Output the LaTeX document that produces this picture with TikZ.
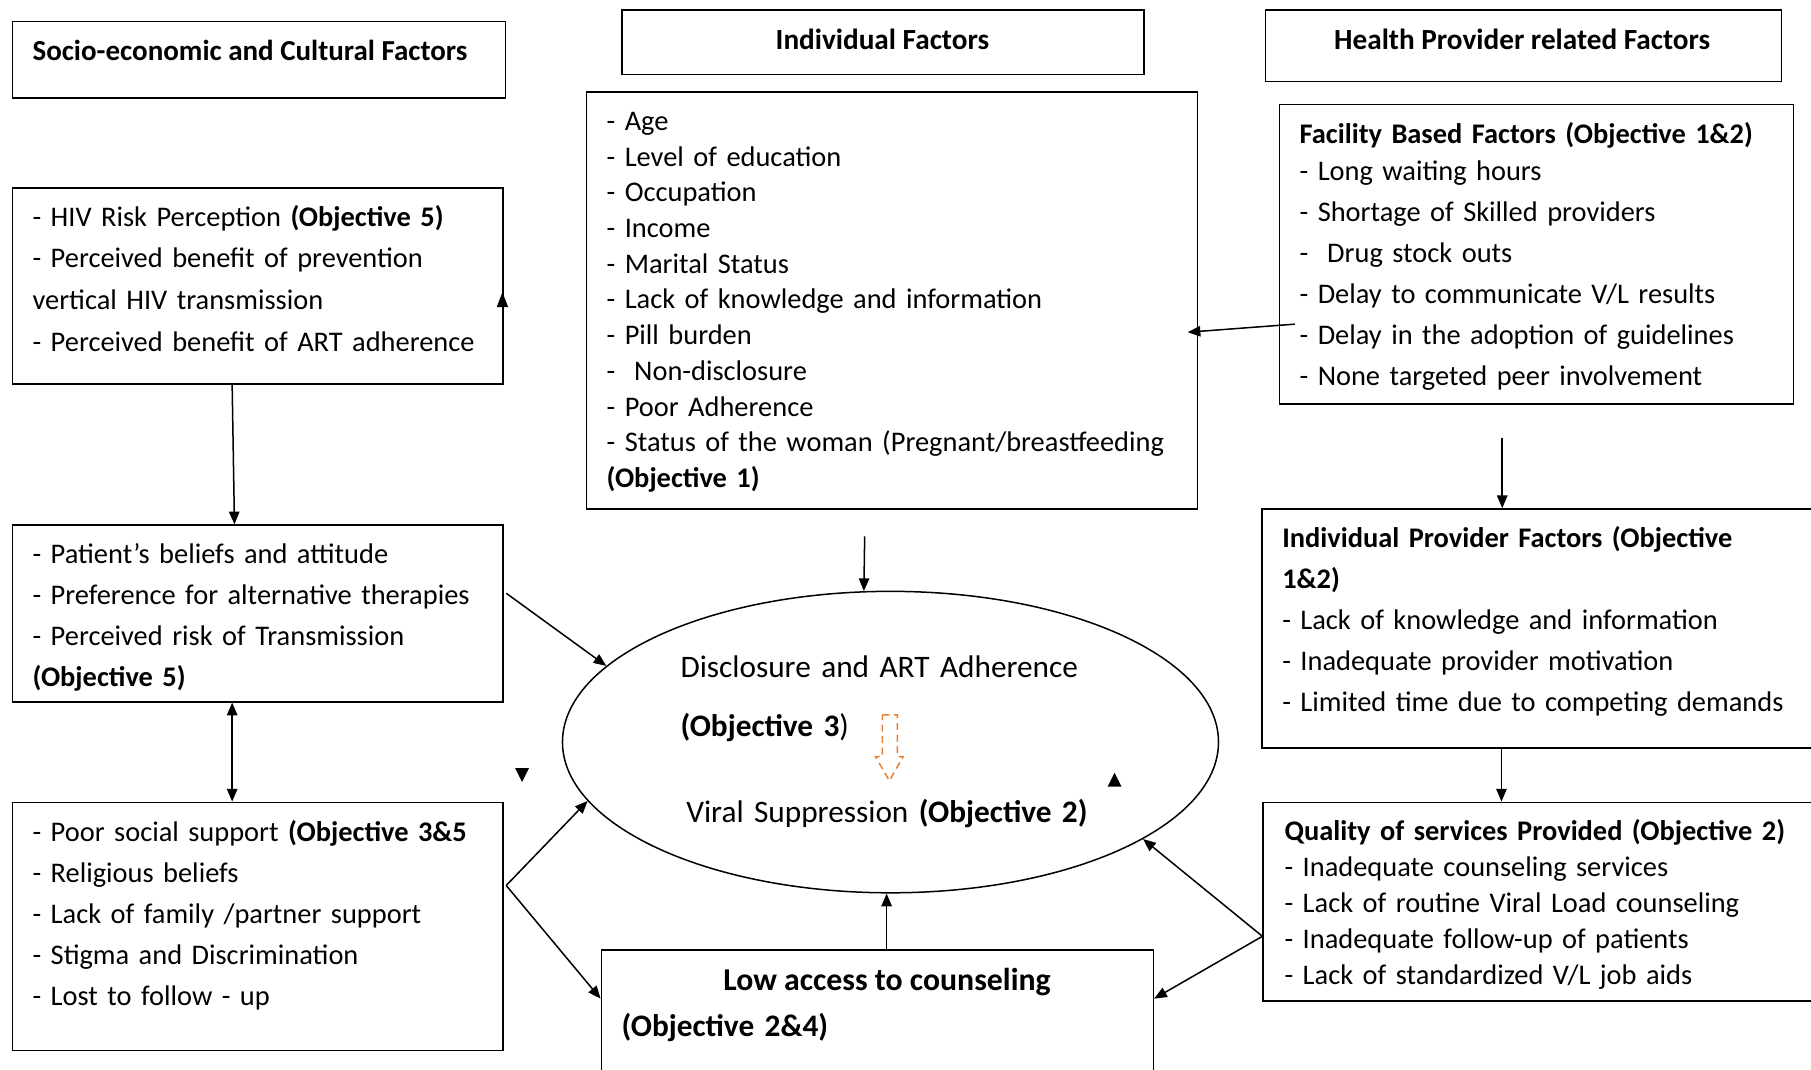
\documentclass[tikz,border=0pt]{standalone}
\usepackage{fontspec}
\setmainfont{Carlito}
\usetikzlibrary{arrows.meta,shapes.geometric}
\definecolor{dashorange}{RGB}{237,125,49}
\begin{document}
\begin{tikzpicture}[x=1pt,y=-1pt,
  box/.style={draw, line width=1.3pt, inner sep=0pt, anchor=north west},
  txt/.style={anchor=base west, inner sep=0pt, align=left, text width=520pt,
              font=\fontsize{24.6}{#1}\selectfont},
  bigtxt/.style={anchor=base west, inner sep=0pt, align=left, text width=520pt,
              font=\fontsize{27.1}{31}\selectfont},
  ctxt/.style={anchor=base, inner sep=0pt, font=\fontsize{25.3}{31}\selectfont\bfseries},
  arr/.style={line width=1.3pt, -{Triangle[length=11pt,width=9pt]}},
  dblarr/.style={line width=1.3pt, {Triangle[length=11pt,width=9pt]}-{Triangle[length=11pt,width=9pt]}},
  head/.style={fill=black}
]
\useasboundingbox (0,0) rectangle (1568,926);
\clip (0,0) rectangle (1568,926);

% ---------- left column ----------
\node[box, minimum width=427pt, minimum height=66pt] (socio) at (10,18) {};
\node[anchor=base west, inner sep=0pt, font=\fontsize{25.1}{31}\selectfont\bfseries] (socio-t) at (28,52) {Socio-economic and Cultural Factors};

\node[box, minimum width=425pt, minimum height=170pt] (hiv) at (10,162) {};
\node[txt=36] (hiv-t) at (28,196) {- HIV Risk Perception \textbf{(Objective 5)}\\
- Perceived benefit of prevention\\
vertical HIV transmission\\
- Perceived benefit of ART adherence};

\node[box, minimum width=425pt, minimum height=153pt] (pat) at (10,454) {};
\node[txt=35.5] (pat-t) at (28,488) {- Patient’s beliefs and attitude\\
- Preference for alternative therapies\\
- Perceived risk of Transmission\\
\textbf{(Objective 5)}};

\node[box, minimum width=425pt, minimum height=215pt] (soc) at (10,694) {};
\node[txt=35.5] (soc-t) at (28,729) {- Poor social support \textbf{(Objective 3\&5}\\
- Religious beliefs\\
- Lack of family /partner support\\
- Stigma and Discrimination\\
- Lost to follow - up};

% ---------- middle column ----------
\node[box, minimum width=452pt, minimum height=56pt] (indh) at (538,8) {};
\node[ctxt] (indh-t) at (764,43) {Individual Factors};

\node[box, minimum width=529pt, minimum height=361pt] (ind) at (507,79) {};
\node[txt=30.9] (ind-t) at (525,113) {- Age\\
- Level of education\\
- Occupation\\
- Income\\
- Marital Status\\
- Lack of knowledge and information\\
- Pill burden\\
-\ \ Non-disclosure\\
- Poor Adherence\\
- Status of the woman (Pregnant/breastfeeding\\
\textbf{(Objective 1)}};

\node[draw, ellipse, line width=1.3pt, inner sep=0pt, minimum width=568pt, minimum height=261pt] (ell) at (771,642.5) {};
\node[bigtxt] (ell-a) at (589,587) {Disclosure and ART Adherence};
\node[bigtxt] (ell-b) at (589,638) {\textbf{(Objective 3})};
\node[bigtxt] (ell-c) at (594,712) {Viral Suppression \textbf{(Objective 2)}};

% dashed block arrow between the two outcomes
\draw[dashorange, line width=1.3pt, dash pattern=on 6pt off 4pt]
  (764,619) -- (777,619) -- (777,655) -- (782,655) -- (770,676) -- (758,655) -- (764,655) -- cycle;

\node[box, minimum width=478pt, minimum height=130pt] (low) at (520,822) {};
\node[anchor=base, inner sep=0pt, font=\fontsize{27.5}{31}\selectfont\bfseries] (low-t) at (768,858) {Low access to counseling};
\node[bigtxt] (low-b) at (538,897) {\textbf{(Objective 2\&4)}};

% ---------- right column ----------
\node[box, minimum width=447pt, minimum height=62pt] (hph) at (1095,8) {};
\node[ctxt] (hph-t) at (1318,43) {Health Provider related Factors};

\node[box, minimum width=445pt, minimum height=259pt] (fac) at (1107,90) {};
\node[txt=35.6] (fac-t) at (1125,124) {\textbf{Facility Based Factors (Objective 1\&2)}\\[-3.6pt]
- Long waiting hours\\
- Shortage of Skilled providers\\
-\ \ Drug stock outs\\
- Delay to communicate V/L results\\
- Delay in the adoption of guidelines\\
- None targeted peer involvement};

\node[box, minimum width=500pt, minimum height=207pt] (ipf) at (1092,440) {};
\node[txt=35.5] (ipf-t) at (1110,474) {\textbf{Individual Provider Factors (Objective}\\
\textbf{1\&2)}\\
- Lack of knowledge and information\\
- Inadequate provider motivation\\
- Limited time due to competing demands};

\node[box, minimum width=500pt, minimum height=172pt] (qual) at (1093,694) {};
\node[txt=31.2] (qual-t) at (1112,728) {\textbf{Quality of services Provided (Objective 2)}\\
- Inadequate counseling services\\
- Lack of routine Viral Load counseling\\
- Inadequate follow-up of patients\\
- Lack of standardized V/L job aids};

% ---------- connectors ----------
\draw[arr] ([xshift=191pt]hiv.south west) -- ([xshift=193pt]pat.north west);
\draw[dblarr] ([xshift=191pt]pat.south west) -- ([xshift=191pt]soc.north west);
\draw[arr] ([xshift=2pt,yshift=17.5pt]pat.east) -- (ell.165);
\draw[arr] ([xshift=2pt,yshift=35.5pt]soc.east) -- (ell.191.5);
\draw[arr] ([xshift=2pt,yshift=35.5pt]soc.east) -- ([yshift=23pt]low.west);
\draw[arr] ([yshift=-30pt]qual.west) -- (ell.339.6);
\draw[arr] ([yshift=-30pt]qual.west) -- ([yshift=23pt]low.east);
\coordinate (lowtop) at ([xshift=8pt]low.north);
\draw[arr] (lowtop) -- (lowtop |- ell.south);
\coordinate (indout) at ([xshift=-23.5pt,yshift=-23pt]ind.south);
\draw[arr] (indout) -- (ell.100);
\coordinate (facout) at ([xshift=-29.5pt,yshift=-29pt]fac.south);
\draw[arr] (facout) -- (facout |- ipf.north);
\coordinate (ipfout) at ([xshift=208pt]ipf.south west);
\draw[arr] (ipfout) -- (ipfout |- qual.north);
\draw[arr] ([xshift=14pt,yshift=-60.5pt]fac.west) -- ([xshift=-9pt,yshift=-27.5pt]ind.east);

% loose arrowheads
\fill[head] (430,266) -- (440,266) -- (435,253) -- cycle;
\fill[head] (446,665) -- (458,665) -- (452,677) -- cycle;
\fill[head] (959,681) -- (971,681) -- (965,669) -- cycle;
\end{tikzpicture}
\end{document}
